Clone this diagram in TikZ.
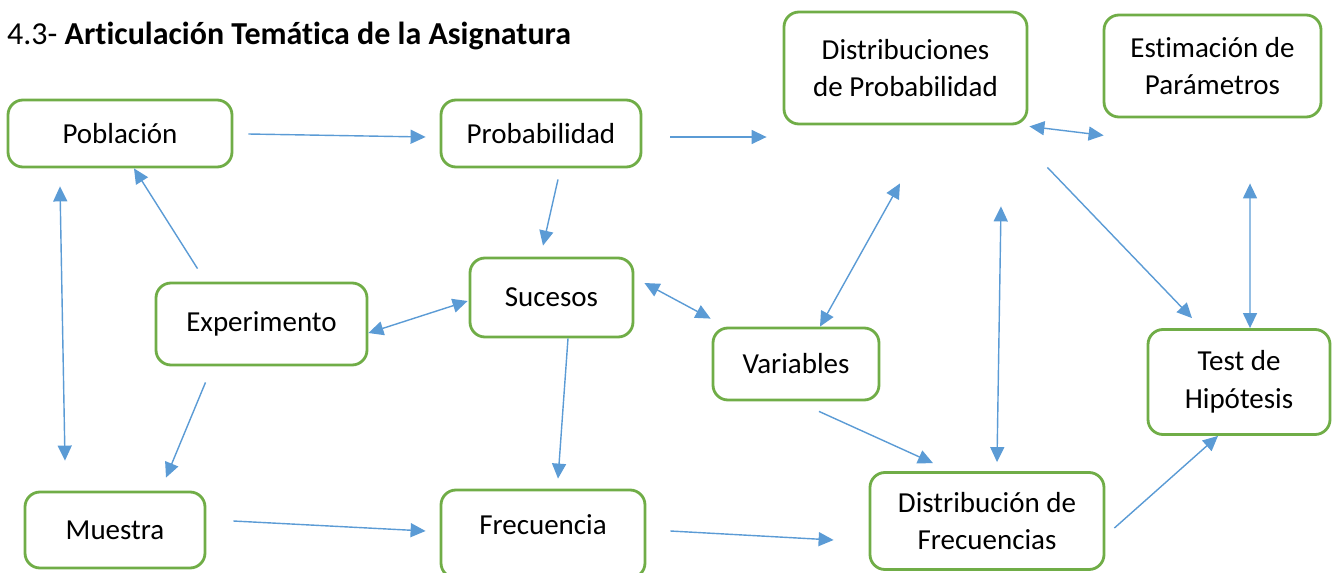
\documentclass[tikz,border=0pt]{standalone}
\usepackage{fontspec}
\setmainfont{Carlito}[Ligatures=NoCommon]
\usetikzlibrary{calc,arrows.meta}
\definecolor{boxgreen}{HTML}{70AD47}
\definecolor{arrblue}{HTML}{5B9BD5}

\begin{document}
\begin{tikzpicture}[x=0.02cm,y=-0.02cm,
    tema/.style={draw=boxgreen,line width=1.6pt,rounded corners=0.3cm,align=center,
        inner sep=0pt,font=\fontsize{16.5pt}{21.5pt}\selectfont},
    flecha/.style={draw=arrblue,line width=0.8pt,-{Triangle[length=0.3cm,width=0.28cm]}},
    doble/.style={flecha,{Triangle[length=0.3cm,width=0.28cm]}-{Triangle[length=0.3cm,width=0.28cm]}}]
        \useasboundingbox (0,0) rectangle (1332,572);
        \node[anchor=base west,font=\fontsize{18.2pt}{22pt}\selectfont] (titulo) at (1,44)
            {4.3- \textbf{Articulación Temática de la Asignatura}};

        % temas
        \node[tema,minimum width=224*0.02cm,minimum height=67*0.02cm] (pob) at (120,133.5) {Población};
        \node[tema,minimum width=200*0.02cm,minimum height=67*0.02cm] (prob) at (541,133.5) {Probabilidad};
        \node[tema,minimum width=243*0.02cm,minimum height=112*0.02cm] (dprob) at (905.5,68) {Distribuciones\\de Probabilidad};
        \node[tema,minimum width=217*0.02cm,minimum height=102*0.02cm] (est) at (1212.5,66) {Estimación de\\Parámetros};
        \node[tema,minimum width=211*0.02cm,minimum height=82*0.02cm] (exp) at (261.5,324) {Experimento};
        \node[tema,minimum width=163*0.02cm,minimum height=79*0.02cm] (suc) at (551.5,297.5) {Sucesos};
        \node[tema,minimum width=166*0.02cm,minimum height=72*0.02cm] (var) at (796,364) {Variables};
        \node[tema,minimum width=182*0.02cm,minimum height=105*0.02cm] (test) at (1239,382) {Test de\\Hipótesis};
        \node[tema,minimum width=180*0.02cm,minimum height=76*0.02cm] (mue) at (115,530) {Muestra};
        \node[tema,minimum width=204*0.02cm,minimum height=88*0.02cm,text depth=0.36cm] (frec) at (543,534) {Frecuencia};
        \node[tema,minimum width=234*0.02cm,minimum height=97*0.02cm] (dfrec) at (987,521) {Distribución de\\Frecuencias};

        % flechas
        \draw[flecha] ($(pob.east)+(15,0.5)$) -- ($(prob.west)+(-14,3.5)$);
        \draw[flecha] ($(prob.east)+(28,3.5)$) -- ($(dprob.west |- prob.east)+(-16,3.5)$);
        \draw[doble] ($(dprob.south east)+(1,1)$) -- ($(est.south west)+(1,17)$);
        \draw[flecha] ($(exp.north)+(-64,-13)$) -- ($(pob.south)+(14,0)$);
        \draw[doble] ($(pob.south)+(-60,18)$) -- ($(mue.north)+(-50,-30)$);
        \draw[flecha] ($(exp.south)+(-56,16)$) -- ($(mue.north)+(51,-13)$);
        \draw[flecha] ($(prob.south)+(17,11)$) -- ($(suc.north)+(-8.5,-11)$);
        \draw[doble] ($(exp.east)+(0,9)$) -- ($(suc.west)+(-1,3.5)$);
        \draw[doble] ($(suc.east)+(10,-14.5)$) -- ($(var.north west)+(-1,-8)$);
        \draw[flecha] ($(suc.south)+(16.5,0)$) -- ($(frec.north)+(15,-10)$);
        \draw[doble] ($(var.north)+(24,0)$) -- ($(dprob.south)+(-5.5,58)$);
        \draw[flecha] ($(mue.east)+(27,-9)$) -- ($(frec.west)+(-14,-3)$);
        \draw[flecha] ($(frec.east)+(24,-3)$) -- ($(dfrec.west)+(-35,19)$);
        \draw[flecha] ($(var.south)+(23,10)$) -- ($(dfrec.north)+(-54,-8)$);
        \draw[doble] ($(dfrec.north)+(10,-9)$) -- ($(dprob.south)+(95.5,81)$);
        \draw[flecha] ($(dprob.south east)+(19,42)$) -- ($(test.north)+(-47,-10)$);
        \draw[doble] ($(est.south)+(37.5,65)$) -- ($(test.north)+(11,0)$);
        \draw[flecha] ($(dfrec.east)+(9,7)$) -- ($(test.south)+(-21,0)$);
    \end{tikzpicture}
\end{document}
